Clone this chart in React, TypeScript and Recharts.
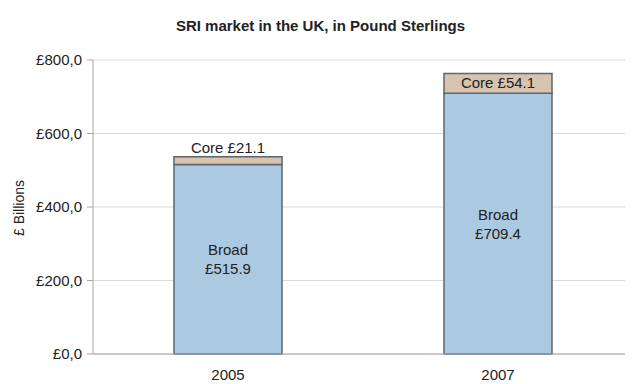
import React from "react"
import {
  BarChart,
  Bar,
  XAxis,
  YAxis,
  CartesianGrid,
  LabelList,
} from "recharts"

const years = ["2005", "2007"]
const broad = [515.9, 709.4]
const core = [21.1, 54.1]
const yTicks = [0, 200, 400, 600, 800]

const data = years.map((year, i) => ({
  year,
  broad: broad[i],
  core: core[i],
}))

const FONT = '"Liberation Sans", Arial, sans-serif'
const TEXT = "#222"

const pounds = (v: number) => "£" + v.toFixed(1).replace(".", ",")

const BroadLabel = (props: any) => {
  const { x, y, width, height, value } = props
  const cx = x + width / 2
  const cy = y + height / 2
  return (
    <text x={cx} y={cy} textAnchor="middle" fontSize={15} fill={TEXT} fontFamily={FONT}>
      <tspan x={cx} dy={-4}>Broad</tspan>
      <tspan x={cx} dy={19}>£{Number(value).toFixed(1)}</tspan>
    </text>
  )
}

const CoreLabel = (props: any) => {
  const { x, y, width, height, value } = props
  const cx = x + width / 2
  // thin segments get their label above the bar
  const ty = height < 12 ? y - 4 : y + height / 2 + 5
  return (
    <text x={cx} y={ty} textAnchor="middle" fontSize={15} fill={TEXT} fontFamily={FONT}>
      Core £{Number(value).toFixed(1)}
    </text>
  )
}

const App = () => {
  return (
    <div style={{ position: "relative", width: 625, height: 376, fontFamily: FONT }}>
      <div
        style={{
          position: "absolute",
          top: 9,
          left: 0,
          width: 625,
          textAlign: "center",
          fontSize: 15,
          fontWeight: "bold",
          color: TEXT,
          lineHeight: "18px",
        }}
      >
        SRI market in the UK, in Pound Sterlings
      </div>
      <div
        style={{
          position: "absolute",
          left: 11,
          top: 200,
          transform: "translate(-50%, -50%) rotate(-90deg)",
          fontSize: 14,
          color: TEXT,
          whiteSpace: "nowrap",
        }}
      >
        £ Billions
      </div>
      <BarChart
        width={625}
        height={376}
        data={data}
        barCategoryGap="30%"
        margin={{ top: 52, right: 0, left: 0, bottom: 0 }}
      >
        <CartesianGrid vertical={false} stroke="#d9d9d9" />
        <XAxis
          dataKey="year"
          height={30}
          axisLine={{ stroke: "#a6a6a6" }}
          tickLine={false}
          tickMargin={9}
          tick={{ fontSize: 15, fill: TEXT, fontFamily: FONT }}
        />
        <YAxis
          width={85}
          domain={[0, 800]}
          ticks={yTicks}
          tickFormatter={pounds}
          axisLine={{ stroke: "#a6a6a6" }}
          tickLine={{ stroke: "#a6a6a6" }}
          tickSize={6}
          tickMargin={5}
          tick={{ fontSize: 15, fill: TEXT, fontFamily: FONT }}
        />
        <Bar
          dataKey="broad"
          stackId="a"
          fill="#abc9e1"
          stroke="#5b6570"
          strokeWidth={1.5}
          isAnimationActive={false}
        >
          <LabelList dataKey="broad" content={BroadLabel} />
        </Bar>
        <Bar
          dataKey="core"
          stackId="a"
          fill="#d8c3ae"
          stroke="#5b6570"
          strokeWidth={1.5}
          isAnimationActive={false}
        >
          <LabelList dataKey="core" content={CoreLabel} />
        </Bar>
      </BarChart>
    </div>
  )
}

export default App
